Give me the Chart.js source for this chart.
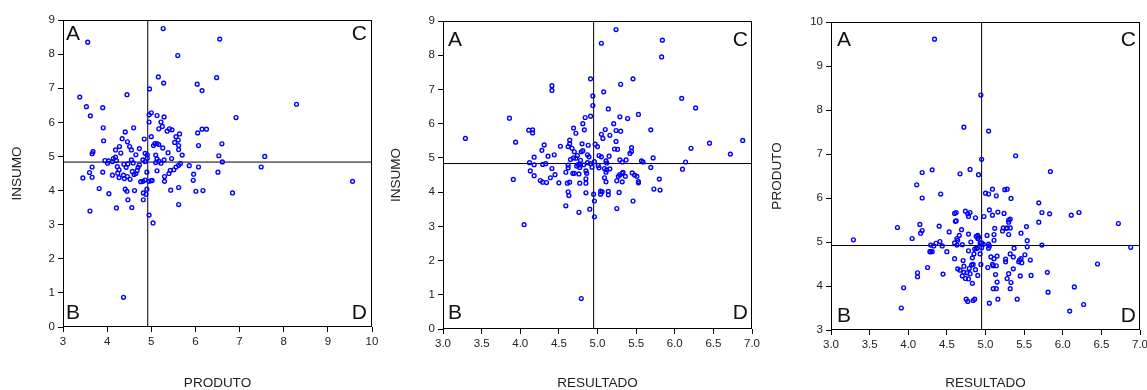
<!DOCTYPE html>
<html><head><meta charset="utf-8">
<script src="https://cdn.jsdelivr.net/npm/chart.js@4.4.0/dist/chart.umd.min.js"></script>
<style>
html,body{margin:0;padding:0;background:#fff;overflow:hidden;width:1147px;height:390px;position:relative;}
canvas{position:absolute;top:0;}
</style></head><body>
<canvas id="c1" width="383" height="390" style="left:0px"></canvas>
<canvas id="c2" width="383" height="390" style="left:383px"></canvas>
<canvas id="c3" width="390" height="390" style="left:766px"></canvas>
<script>
// ---- Data ----
const cornerLabels = ['A','B','C','D'];
const meanProduto = 4.92, meanInsumo = 4.835, meanResultado = 4.95;

// Panel 1: PRODUTO (x) vs INSUMO (y)
const p1Produto = [3.56,5.27,6.55,5.60,5.16,5.28,6.48,6.04,6.15,4.96,
3.38,4.45,3.53,3.90,3.62,8.29,6.92,4.95,5.00,4.95,
5.13,5.29,5.22,5.25,5.17,5.41,5.47,5.36,6.15,6.25,
6.05,5.64,5.56,5.00,3.91,4.60,4.41,4.84,3.92,4.34,
4.46,5.53,5.61,5.62,5.62,5.08,5.13,5.17,5.05,5.26,
6.60,6.07,4.28,4.51,4.55,4.73,4.19,4.31,3.68,3.66,
4.86,4.91,4.65,5.10,5.38,5.70,5.46,6.53,7.57,4.19,
4.14,3.95,4.03,4.12,4.01,4.21,4.55,4.81,4.86,4.91,
5.10,5.13,5.22,5.29,5.17,6.61,5.66,5.62,5.56,5.51,
5.43,5.40,5.30,5.13,4.90,5.86,6.07,7.49,6.51,5.96,
5.95,9.56,3.66,3.90,3.60,3.45,3.66,4.12,4.23,4.27,
4.24,4.27,4.37,4.39,4.46,4.52,4.38,4.43,4.47,4.59,
4.57,4.61,4.65,4.68,4.70,4.73,4.76,4.81,4.86,4.95,
5.00,5.02,5.30,3.82,4.04,4.41,4.45,4.62,4.90,4.82,
4.88,5.44,5.62,6.01,6.17,6.84,4.47,4.82,3.61,4.21,
4.56,5.62,4.95,5.04,4.37];
const p1Insumo = [8.35,8.75,8.44,7.96,7.33,7.15,7.31,7.12,6.93,6.98,
6.74,6.81,6.46,6.43,6.19,6.53,6.14,6.22,6.28,6.01,
6.20,6.16,6.01,5.88,5.81,5.81,5.78,5.74,5.80,5.80,
5.69,5.66,5.58,5.58,5.84,5.84,5.72,5.51,5.46,5.52,
5.43,5.41,5.48,5.32,5.20,5.38,5.38,5.35,5.32,5.25,
5.37,5.32,5.29,5.29,5.19,5.23,5.19,5.10,5.14,5.08,
5.09,5.05,5.05,5.04,5.11,5.04,4.94,5.02,5.00,4.98,
4.94,4.88,4.87,4.85,4.80,4.88,4.90,4.90,4.85,4.95,
4.82,4.93,4.80,4.90,4.86,4.84,4.79,4.74,4.69,4.61,
4.59,4.50,4.41,4.58,4.54,4.73,4.69,4.69,4.54,4.48,
4.30,4.27,4.69,4.54,4.53,4.37,4.39,4.45,4.70,4.61,
4.51,4.38,4.45,4.35,4.41,4.33,4.77,4.68,4.78,4.81,
4.56,4.47,4.50,4.59,4.68,4.75,4.26,4.27,4.31,4.27,
4.29,4.30,4.27,4.06,3.91,4.04,3.98,4.00,4.04,3.93,
3.89,4.01,4.09,3.98,4.00,3.93,3.73,3.73,3.40,3.49,
3.50,3.59,3.28,3.05,0.87];

// Panel 2: RESULTADO (x) vs INSUMO (y)
const p2Resultado = [5.24,5.05,5.84,5.83,4.91,5.46,5.30,5.08,4.41,4.41,
4.94,4.94,6.09,6.27,5.14,4.91,4.84,3.86,5.29,5.39,
5.53,5.21,4.81,4.69,4.83,4.72,5.10,5.24,5.30,5.69,
4.11,4.16,4.16,3.29,5.05,5.16,5.07,5.24,3.94,4.64,
4.64,4.80,4.88,4.97,5.00,4.52,4.31,4.62,4.67,5.26,
5.22,5.44,5.44,5.42,6.21,6.45,6.88,6.72,4.28,4.44,
4.36,4.18,4.70,4.79,4.81,4.74,4.87,4.89,5.02,5.05,
5.15,4.69,4.72,4.65,4.78,5.72,5.37,5.29,5.57,5.59,
5.11,5.12,4.96,4.87,4.91,4.82,4.78,4.75,4.73,4.77,
4.93,4.62,4.62,4.12,4.18,4.29,4.33,4.41,5.01,5.02,
5.09,5.16,5.12,5.11,5.69,6.14,6.10,5.32,4.13,4.18,
4.45,4.59,4.68,4.70,4.76,4.85,4.86,4.85,4.39,4.26,
4.29,4.34,4.50,4.64,4.61,4.77,4.85,3.91,5.09,5.11,
5.25,5.27,5.29,5.32,5.33,5.36,5.32,5.45,5.48,5.51,
5.53,5.53,5.80,5.73,5.81,4.62,4.63,4.85,4.95,5.04,
5.06,5.04,5.14,5.14,5.28,4.96,5.46,4.59,4.90,5.25,
4.76,4.96,4.05,4.79];
const p2Insumo = [8.75,8.35,8.44,7.95,7.31,7.31,7.15,6.93,7.11,6.97,
6.81,6.53,6.74,6.46,6.43,6.22,6.18,6.16,6.20,6.15,
6.27,6.00,6.00,5.87,5.82,5.72,5.83,5.80,5.78,5.82,
5.81,5.82,5.73,5.57,5.69,5.66,5.57,5.48,5.46,5.52,
5.41,5.41,5.37,5.40,5.33,5.34,5.38,5.33,5.28,5.25,
5.26,5.30,5.19,5.13,5.28,5.43,5.51,5.11,5.22,5.09,
5.05,5.02,5.18,5.18,5.21,5.07,5.09,5.03,5.07,5.03,
5.05,5.00,4.99,4.95,4.93,5.00,4.94,4.94,4.91,4.88,
4.91,4.85,4.89,4.86,4.83,4.80,4.79,4.81,4.76,4.72,
4.73,4.79,4.71,4.86,4.80,4.81,4.83,4.69,4.78,4.71,
4.69,4.68,4.65,4.58,4.72,4.88,4.67,4.88,4.62,4.48,
4.51,4.58,4.55,4.55,4.53,4.62,4.55,4.39,4.42,4.34,
4.29,4.28,4.27,4.29,4.26,4.26,4.26,4.37,4.42,4.30,
4.33,4.46,4.51,4.55,4.58,4.46,4.30,4.56,4.50,4.46,
4.31,4.27,4.38,4.09,4.06,4.01,3.90,3.98,3.94,4.03,
4.01,3.94,4.02,3.92,3.99,3.74,3.74,3.60,3.50,3.52,
3.41,3.28,3.05,0.89];

// Panel 3: RESULTADO (x) vs PRODUTO (y)
const p3Resultado = [4.34,4.94,4.72,5.04,5.39,4.95,4.31,4.18,4.67,4.80,
4.91,5.84,4.11,4.42,4.18,5.09,5.00,5.04,5.14,5.25,
5.28,5.33,5.69,4.60,4.62,4.74,4.77,4.80,4.78,4.87,
4.98,5.05,5.09,5.16,5.24,5.73,5.83,6.11,6.21,6.72,
4.61,4.62,5.30,5.30,5.32,5.69,4.15,3.86,4.40,4.18,
4.16,4.69,4.53,5.12,5.23,5.27,5.28,5.32,5.53,5.46,
5.22,5.11,5.30,5.02,4.78,4.66,4.63,4.88,4.90,4.91,
4.90,4.05,3.29,5.11,5.54,4.41,4.36,4.60,4.64,4.81,
4.93,4.95,4.97,4.29,4.33,4.44,4.63,4.70,5.04,5.05,
5.73,5.54,6.88,4.95,4.86,4.88,4.89,5.04,5.37,4.78,
4.50,4.28,4.29,4.31,4.93,4.85,5.51,5.32,5.36,5.07,
5.11,5.15,4.71,4.83,4.60,5.46,5.44,5.58,5.26,5.26,
5.47,5.43,5.09,5.10,5.14,4.72,4.94,4.84,4.82,4.25,
4.64,4.67,4.79,4.87,5.03,5.36,4.72,4.70,4.76,4.80,
4.74,4.78,4.90,4.83,4.12,4.12,4.45,5.13,5.30,5.45,
5.59,5.80,5.28,5.33,5.15,5.10,5.14,5.32,3.94,6.15,
5.81,3.91,4.75,4.77,4.84,4.86,5.05,5.16,5.41,6.27,
6.09,6.45];
const p3Produto = [9.61,8.34,7.61,7.52,6.96,6.88,6.64,6.58,6.55,6.65,
6.53,6.60,6.30,6.09,6.00,6.20,6.11,6.09,6.05,6.19,
6.20,5.99,5.89,5.65,5.67,5.70,5.64,5.67,5.58,5.55,
5.58,5.73,5.61,5.68,5.65,5.67,5.64,5.61,5.67,5.42,
5.47,5.48,5.50,5.45,5.52,5.45,5.40,5.33,5.36,5.26,
5.20,5.28,5.23,5.31,5.32,5.31,5.32,5.32,5.35,5.20,
5.25,5.17,5.17,5.15,5.18,5.15,5.08,5.13,5.15,5.11,
5.08,5.08,5.05,5.04,5.03,5.01,4.97,4.98,5.04,5.00,
4.98,4.98,4.95,4.93,4.91,4.91,4.93,4.94,4.95,4.91,
4.93,4.89,4.88,4.87,4.84,4.86,4.85,4.86,4.86,4.80,
4.78,4.78,4.78,4.78,4.73,4.73,4.71,4.73,4.66,4.66,
4.62,4.68,4.58,4.64,4.62,4.62,4.59,4.59,4.61,4.55,
4.53,4.55,4.49,4.46,4.46,4.45,4.49,4.49,4.48,4.42,
4.39,4.36,4.40,4.37,4.42,4.39,4.31,4.23,4.30,4.28,
4.17,4.16,4.24,4.06,4.30,4.21,4.27,4.26,4.28,4.23,
4.24,4.31,4.17,4.08,4.09,3.94,3.94,3.94,3.96,3.98,
3.86,3.50,3.70,3.65,3.67,3.70,3.61,3.70,3.70,3.58,
3.43,4.50];

// Tick values and labels
const ticksProduto1 = [3,4,5,6,7,8,9,10];
const labelsProduto1 = ['3','4','5','6','7','8','9','10'];
const ticksInsumo = [0,1,2,3,4,5,6,7,8,9];
const labelsInsumo = ['0','1','2','3','4','5','6','7','8','9'];
const ticksResultado = [3,3.5,4,4.5,5,5.5,6,6.5,7];
const labelsResultado = ['3.0','3.5','4.0','4.5','5.0','5.5','6.0','6.5','7.0'];
const ticksProduto3 = [3,4,5,6,7,8,9,10];
const labelsProduto3 = ['3','4','5','6','7','8','9','10'];

// ---- Drawing ----
const FONT = '"Liberation Sans", Arial, sans-serif';

const quadFrame = {
  id: 'quadFrame',
  afterDatasetsDraw(chart, args, o) {
    const {ctx, chartArea: a} = chart;
    ctx.save();
    ctx.strokeStyle = '#000';
    ctx.lineWidth = 1;
    const l = Math.round(a.left) + 0.5, t = Math.round(a.top) + 0.5;
    const r = Math.round(a.right) - 0.5, b = Math.round(a.bottom) - 0.5;
    ctx.strokeRect(l, t, r - l, b - t);
    ctx.fillStyle = '#111';
    ctx.font = '21px ' + FONT;
    ctx.textBaseline = 'alphabetic';
    const cap = 15;
    ctx.textAlign = 'left';
    ctx.fillText(cornerLabels[0], a.left + o.inL, a.top + o.inT + cap);
    ctx.fillText(cornerLabels[1], a.left + o.inL, a.bottom - o.inB);
    ctx.textAlign = 'right';
    ctx.fillText(cornerLabels[2], a.right - o.inR, a.top + o.inT + cap);
    ctx.fillText(cornerLabels[3], a.right - o.inR, a.bottom - o.inB);
    ctx.restore();
  }
};

function axis(cfg) {
  return {
    type: 'linear', min: cfg.min, max: cfg.max,
    afterBuildTicks: s => { s.ticks = cfg.ticks.map(v => ({value: v})); },
    afterFit: s => { if (cfg.w !== undefined) s.width = cfg.w; if (cfg.h !== undefined) s.height = cfg.h; },
    ticks: { callback: (v, i) => cfg.labels[i], autoSkip: false, maxRotation: 0, padding: 3,
             color: '#222', font: {family: FONT, size: 11.5} },
    grid: { drawOnChartArea: false, tickLength: 5, color: '#000', lineWidth: 1 },
    border: { display: false },
    title: { display: true, text: cfg.title, color: '#222', font: {family: FONT, size: 13.5, lineHeight: 1.0},
             padding: {top: cfg.tpad, bottom: 0} }
  };
}

function quadChart(id, p) {
  const pts = p.xs.map((x, i) => ({x: x, y: p.ys[i]}));
  return new Chart(document.getElementById(id), {
    type: 'scatter',
    data: { datasets: [
      { data: pts, borderColor: '#0000ff', backgroundColor: 'rgba(0,0,0,0)', pointRadius: 1.9,
        pointBorderWidth: 1.4, pointHoverRadius: 1.9 },
      { data: [{x: p.xMean, y: p.y.min}, {x: p.xMean, y: p.y.max}], showLine: true,
        borderColor: '#000', borderWidth: 1, pointRadius: 0 },
      { data: [{x: p.x.min, y: p.yMean}, {x: p.x.max, y: p.yMean}], showLine: true,
        borderColor: '#000', borderWidth: 1, pointRadius: 0 }
    ]},
    options: {
      responsive: false, animation: false, events: [],
      layout: { padding: {top: p.padTop, right: p.padRight, left: 0, bottom: 0} },
      plugins: { legend: {display: false}, tooltip: {enabled: false}, quadFrame: p.letters },
      scales: { x: axis(p.x), y: axis(p.y) }
    },
    plugins: [quadFrame]
  });
}

quadChart('c1', {
  xs: p1Produto, ys: p1Insumo, xMean: meanProduto, yMean: meanInsumo,
  padTop: 20, padRight: 11,
  x: {min: 3, max: 10, ticks: ticksProduto1, labels: labelsProduto1, title: 'PRODUTO', h: 63, tpad: 2},
  y: {min: 0, max: 9, ticks: ticksInsumo, labels: labelsInsumo, title: 'INSUMO', w: 63, tpad: 10.5},
  letters: {inL: 3, inR: 5, inT: 5, inB: 8}
});
quadChart('c2', {
  xs: p2Resultado, ys: p2Insumo, xMean: meanResultado, yMean: meanInsumo,
  padTop: 21, padRight: 14,
  x: {min: 3, max: 7, ticks: ticksResultado, labels: labelsResultado, title: 'RESULTADO', h: 61, tpad: 0},
  y: {min: 0, max: 9, ticks: ticksInsumo, labels: labelsInsumo, title: 'INSUMO', w: 60, tpad: 7},
  letters: {inL: 5, inR: 4, inT: 10, inB: 10}
});
quadChart('c3', {
  xs: p3Resultado, ys: p3Produto, xMean: meanResultado, yMean: meanProduto,
  padTop: 22, padRight: 16,
  x: {min: 3, max: 7, ticks: ticksResultado, labels: labelsResultado, title: 'RESULTADO', h: 60, tpad: 0},
  y: {min: 3, max: 10, ticks: ticksProduto3, labels: labelsProduto3, title: 'PRODUTO', w: 65, tpad: 4.5},
  letters: {inL: 6, inR: 4, inT: 9, inB: 8}
});
</script>
</body></html>
